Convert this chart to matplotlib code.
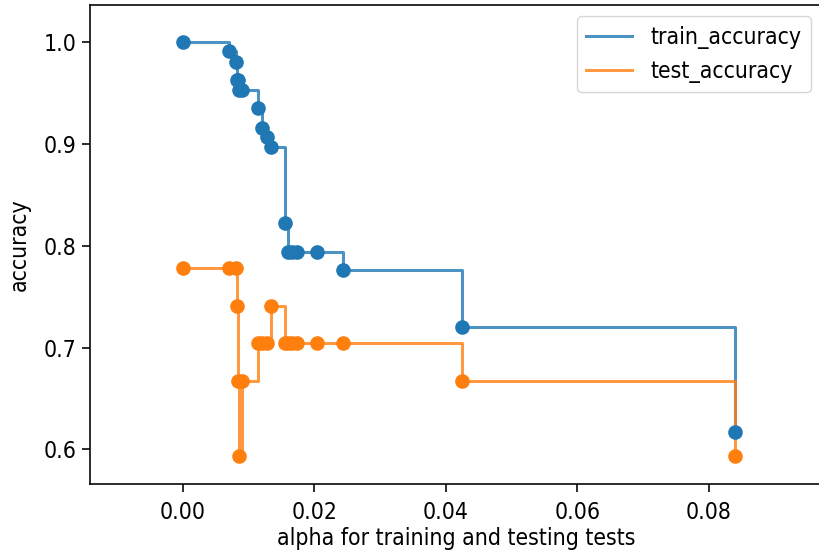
import numpy as np
import matplotlib
matplotlib.use('Agg')
import matplotlib.pyplot as plt


# Data.
ccp_alphas = [0.0, 0.00707, 0.00813, 0.00828, 0.00843, 0.00859, 0.00904,
              0.01147, 0.01208, 0.01284, 0.01345, 0.01558, 0.01603, 0.01664,
              0.0174, 0.02044, 0.02439, 0.04247, 0.08395]
train_accuracy = [1.0, 0.991, 0.981, 0.963, 0.963, 0.953, 0.953,
                  0.935, 0.916, 0.907, 0.897, 0.822, 0.794, 0.794,
                  0.794, 0.794, 0.776, 0.720, 0.617]
test_accuracy = [0.778, 0.778, 0.778, 0.741, 0.667, 0.593, 0.667,
                 0.704, 0.704, 0.704, 0.741, 0.704, 0.704, 0.704,
                 0.704, 0.704, 0.704, 0.667, 0.593]
xticks = [0.00, 0.02, 0.04, 0.06, 0.08]
yticks = [0.6, 0.7, 0.8, 0.9, 1.0]
#====================================================================================================


# Style (default look, scaled up).
s = 1.45
plt.rcParams['font.size'] = 16.5
plt.rcParams['font.stretch'] = 'condensed'
plt.rcParams['axes.linewidth'] = 0.8*s
plt.rcParams['xtick.major.size'] = 6.0
plt.rcParams['ytick.major.size'] = 6.0
plt.rcParams['xtick.major.width'] = 0.8*s
plt.rcParams['ytick.major.width'] = 0.8*s
plt.rcParams['xtick.major.pad'] = 6.5
plt.rcParams['ytick.major.pad'] = 4.0

fig = plt.figure(figsize=(8.2, 5.54), dpi=100)
ax = fig.add_axes([90/820, 70/554, 732/820, 479/554])

ax.plot(ccp_alphas, train_accuracy, color='tab:blue', linewidth=1.5*s, alpha=0.8, drawstyle='steps-post', label='train_accuracy')
ax.scatter(ccp_alphas, train_accuracy, color='tab:blue', s=9.5**2, zorder=3)
ax.plot(ccp_alphas, test_accuracy, color='tab:orange', linewidth=1.5*s, alpha=0.8, drawstyle='steps-post', label='test_accuracy')
ax.scatter(ccp_alphas, test_accuracy, color='tab:orange', s=9.5**2, zorder=3)

ax.set_xlim(-0.01406, 0.0972)
ax.set_ylim(0.5659, 1.0367)
ax.set_xticks(xticks)
ax.set_yticks(yticks)
ax.set_xlabel('alpha for training and testing tests', labelpad=2)
ax.set_ylabel('accuracy', labelpad=9)
ax.legend(loc='upper right')

plt.savefig('out.png', dpi=100)
plt.close()
